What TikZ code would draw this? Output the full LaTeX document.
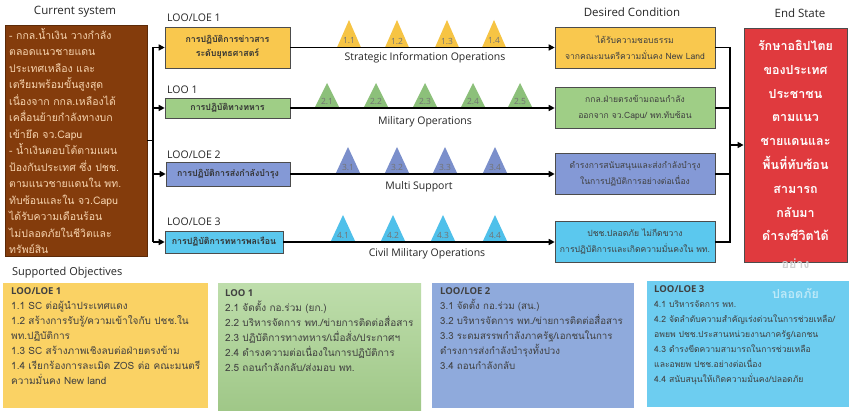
\documentclass[tikz,border=0pt]{standalone}
\usepackage{fontspec}
\setmainfont{Loma}[Script=Thai]
\newfontfamily\lat{Open Sans}
\newcommand\objheadfont{\lat\bfseries\fontsize{9.5}{15}\selectfont}
\usetikzlibrary{arrows.meta}
\definecolor{cbrown}{HTML}{843C0C}
\definecolor{ctan}{HTML}{F6D3AE}
\definecolor{cyel}{HTML}{F9C84E}
\definecolor{cgrn}{HTML}{9FCE86}
\definecolor{cblu}{HTML}{8499D6}
\definecolor{ccya}{HTML}{5BC8EE}
\definecolor{cred}{HTML}{E03A3E}
\definecolor{tyel}{HTML}{F6C444}
\definecolor{tgrn}{HTML}{8CC07A}
\definecolor{tblu}{HTML}{7B8FCB}
\definecolor{tcya}{HTML}{4FC0EA}
\definecolor{byel}{HTML}{FAD264}
\definecolor{bgrn}{HTML}{A8D28F}
\definecolor{bblu}{HTML}{8FAADC}
\definecolor{bcya}{HTML}{6DCDF0}
\begin{document}
\begin{tikzpicture}[x=1pt,y=-1pt,
  title/.style={font=\lat\fontsize{11.5}{13}\selectfont, text=black!85, inner sep=0},
  loolabel/.style={font=\lat\fontsize{10.5}{12}\selectfont, text=black!85, anchor=west, inner sep=0},
  loobox/.style={draw=black!70, line width=0.6pt, inner sep=1pt, font=\bfseries\fontsize{8.8}{14}\selectfont, align=center, text=black!80},
  desbox/.style={draw=black!70, line width=0.6pt, minimum width=160, minimum height=41, inner sep=1pt, font=\fontsize{8.6}{16}\selectfont, align=center, text=black!75},
  oplabel/.style={font=\lat\fontsize{10.5}{12}\selectfont, text=black!85, inner sep=0},
  trilabel/.style={font=\lat\fontsize{8.5}{9}\selectfont, text=black!55, inner sep=0},
  conn/.style={line width=1.6pt, -{Triangle[length=6pt,width=6pt]}},
  bus/.style={line width=1.6pt, line join=miter},
  objbox/.style={inner sep=0},
  objtext/.style={anchor=north west, inner sep=0, align=left, font=\fontsize{10}{15}\selectfont, text=black!75}
]
\useasboundingbox (0,0) rectangle (851,419);
\fill[white] (0,0) rectangle (851,419);

% titles
\node[title] (tcur) at (75,12) {Current system};
\node[title] (tdes) at (632,12) {Desired Condition};
\node[title] (tend) at (800,13) {End State};

% current system
\node[fill=cbrown, draw=cbrown!70!black, minimum width=142, minimum height=231, inner sep=0] (cur) at (76,140.5) {};
\node[anchor=north west, inner sep=0, align=left, text=ctan, font=\fontsize{10.5}{16.5}\selectfont] (curt) at (9,28) {%
- กกล.น้ำเงิน วางกำลัง\\
ตลอดแนวชายแดน\\
ประเทศเหลือง และ\\
เตรียมพร้อมขั้นสูงสุด\\
เนื่องจาก กกล.เหลืองได้\\
เคลื่อนย้ายกำลังทางบก\\
เข้ายึด จว.Capu\\
- น้ำเงินตอบโต้ตามแผน\\
ป้องกันประเทศ ซึ่ง ปชช.\\
ตามแนวชายแดนใน พท.\\
ทับซ้อนและใน จว.Capu\\
ได้รับความเดือนร้อน\\
ไม่ปลอดภัยในชีวิตและ\\
ทรัพย์สิน};

% LOO labels and boxes
\node[loolabel] (l1) at (167,18) {LOO/LOE 1};
\node[loolabel] (l2) at (167,90) {LOO 1};
\node[loolabel] (l3) at (167,155) {LOO/LOE 2};
\node[loolabel] (l4) at (167,222) {LOO/LOE 3};
\node[loobox, fill=cyel, minimum width=125, minimum height=41] (loo1) at (227.5,47.5) {การปฏิบัติการข่าวสาร\\ระดับยุทธศาสตร์};
\node[loobox, fill=cgrn, minimum width=125, minimum height=20] (loo2) at (227.5,108) {การปฏิบัติทางทหาร};
\node[loobox, fill=cblu, minimum width=124, minimum height=24] (loo3) at (228,174) {การปฏิบัติการส่งกำลังบำรุง};
\node[loobox, fill=ccya, minimum width=118, minimum height=22] (loo4) at (224,242) {การปฏิบัติการทหารพลเรือน};

% triangles
\foreach \x/\n in {349/1.1,397/1.2,447/1.3,494/1.4}
  {\fill[tyel] (\x-12,47.5) -- (\x,20) -- (\x+12,47.5) -- cycle;
   \node[trilabel] (tri\n) at (\x,41) {\n};}
\foreach \x/\n in {327/2.1,376/2.2,425/2.3,473/2.4,520/2.5}
  {\fill[tgrn] (\x-12.5,108) -- (\x,83) -- (\x+12.5,108) -- cycle;
   \node[trilabel] (tri\n) at (\x,101.5) {\n};}
\foreach \x/\n in {348/3.1,397/3.2,445/3.3,495/3.4}
  {\fill[tblu] (\x-12.5,174) -- (\x,147) -- (\x+12.5,174) -- cycle;
   \node[trilabel] (tri\n) at (\x,167.5) {\n};}
\foreach \x/\n in {343/4.1,393/4.2,443/4.3,495/4.4}
  {\fill[tcya] (\x-12.5,242) -- (\x,215) -- (\x+12.5,242) -- cycle;
   \node[trilabel] (tri\n) at (\x,235.5) {\n};}

% operation labels
\node[oplabel] (op1) at (425,58) {Strategic Information Operations};
\node[oplabel] (op2) at (425,122) {Military Operations};
\node[oplabel] (op3) at (419,187) {Multi Support};
\node[oplabel] (op4) at (427,254) {Civil Military Operations};

% desired conditions
\node[desbox, fill=cyel] (des1) at (635,47.5) {ได้รับความชอบธรรม\\จากคณะมนตรีความมั่นคง New Land};
\node[desbox, fill=cgrn] (des2) at (635,108) {กกล.ฝ่ายตรงข้ามถอนกำลัง\\ออกจาก จว.Capu/ พท.ทับซ้อน};
\node[desbox, fill=cblu] (des3) at (635,174) {ดำรงการสนับสนุนและส่งกำลังบำรุง\\ในการปฏิบัติการอย่างต่อเนื่อง};
\node[desbox, fill=ccya] (des4) at (635,242) {ปชช.ปลอดภัย ไม่กีดขวาง\\การปฏิบัติการและเกิดความมั่นคงใน พท.};

% end state box
\node[fill=cred, draw=black!70, line width=0.8pt, minimum width=103, minimum height=234, inner sep=0] (endb) at (795.5,145) {};

% left connectors
\coordinate (bj) at (153,140.5);
\coordinate (btop) at (153,47.5);
\coordinate (b2) at (153,108);
\coordinate (b3) at (153,174);
\coordinate (bbot) at (153,242);
\draw[bus] (cur.east) -- (bj);
\draw[bus] (btop) -- (bbot);
\draw[conn] (btop) -- (loo1.west);
\draw[conn] (b2) -- (loo2.west);
\draw[conn] (b3) -- (loo3.west);
\draw[conn] (bbot) -- (loo4.west);

% lines of operation
\draw[conn] (loo1.east) -- (des1.west);
\draw[conn] (loo2.east) -- (des2.west);
\draw[conn] (loo3.east) -- (des3.west);
\draw[conn] (loo4.east) -- (des4.west);

% right connectors
\coordinate (rtop) at (730,47.5);
\coordinate (rbot) at (730,242);
\coordinate (rmid) at (730,145);
\draw[bus] (des1.east) -- (rtop) -- (rbot) -- (des4.east);
\draw[bus] (des2.east) -- (des2.east -| rtop);
\draw[bus] (des3.east) -- (des3.east -| rtop);
\draw[conn] (rmid) -- (endb.west);

% supported objectives
\node[title, anchor=west, font=\lat\fontsize{11}{12}\selectfont] (tsup) at (12,273) {Supported Objectives};
\node[objbox, fill=byel, minimum width=205, minimum height=125] (ob1) at (105.5,345.5) {};
\node[objbox, top color=bgrn!75!white, bottom color=bgrn!95!black, minimum width=203, minimum height=126] (ob2) at (319.5,347) {};
\node[objbox, fill=bblu, minimum width=202, minimum height=125] (ob3) at (533,345.5) {};
\node[objbox, fill=bcya, minimum width=202, minimum height=126] (ob4) at (748,344) {};

\node[objtext] (obt1) at (11,287) {{\objheadfont LOO/LOE 1}\\
1.1 SC ต่อผู้นำประเทศแดง\\
1.2 สร้างการรับรู้/ความเข้าใจกับ ปชช.ใน\\
พท.ปฏิบัติการ\\
1.3 SC สร้างภาพเชิงลบต่อฝ่ายตรงข้าม\\
1.4 เรียกร้องการละเมิด ZOS ต่อ คณะมนตรี\\
ความมั่นคง New land};
\node[objtext] (obt2) at (225,289) {{\objheadfont LOO 1}\\
2.1 จัดตั้ง กอ.ร่วม (ยก.)\\
2.2 บริหารจัดการ พท./ข่ายการติดต่อสื่อสาร\\
2.3 ปฏิบัติการทางทหาร/เมื่อสั่ง/ประกาศฯ\\
2.4 ดำรงความต่อเนื่องในการปฏิบัติการ\\
2.5 ถอนกำลังกลับ/ส่งมอบ พท.};
\node[objtext, font=\fontsize{9.7}{15}\selectfont] (obt3) at (440,287) {{\objheadfont LOO/LOE 2}\\
3.1 จัดตั้ง กอ.ร่วม (สน.)\\
3.2 บริหารจัดการ พท./ข่ายการติดต่อสื่อสาร\\
3.3 ระดมสรรพกำลังภาครัฐ/เอกชนในการ\\
ดำรงการส่งกำลังบำรุงทั้งปวง\\
3.4 ถอนกำลังกลับ};
\node[objtext, font=\fontsize{8.6}{15}\selectfont] (obt4) at (654,285) {{\objheadfont LOO/LOE 3}\\
4.1 บริหารจัดการ พท.\\
4.2 จัดลำดับความสำคัญเร่งด่วนในการช่วยเหลือ/\\
อพยพ ปชช.ประสานหน่วยงานภาครัฐ/เอกชน\\
4.3 ดำรงขีดความสามารถในการช่วยเหลือ\\
และอพยพ ปชช.อย่างต่อเนื่อง\\
4.4 สนับสนุนให้เกิดความมั่นคง/ปลอดภัย};

% end state text (overflows the box as in the original)
\node[anchor=north, inner sep=0, align=center, text=white, font=\bfseries\fontsize{12.5}{23.8}\selectfont] (endt) at (795.5,40) {%
รักษาอธิปไตย\\
ของประเทศ\\
ประชาชน\\
ตามแนว\\
ชายแดนและ\\
พื้นที่ทับซ้อน\\
สามารถ\\
กลับมา\\
ดำรงชีวิตได้\\[4pt]
\textcolor{black!18}{อย่าง}\\[6pt]
\textcolor{white!55!bcya}{ปลอดภัย}};
\end{tikzpicture}
\end{document}
